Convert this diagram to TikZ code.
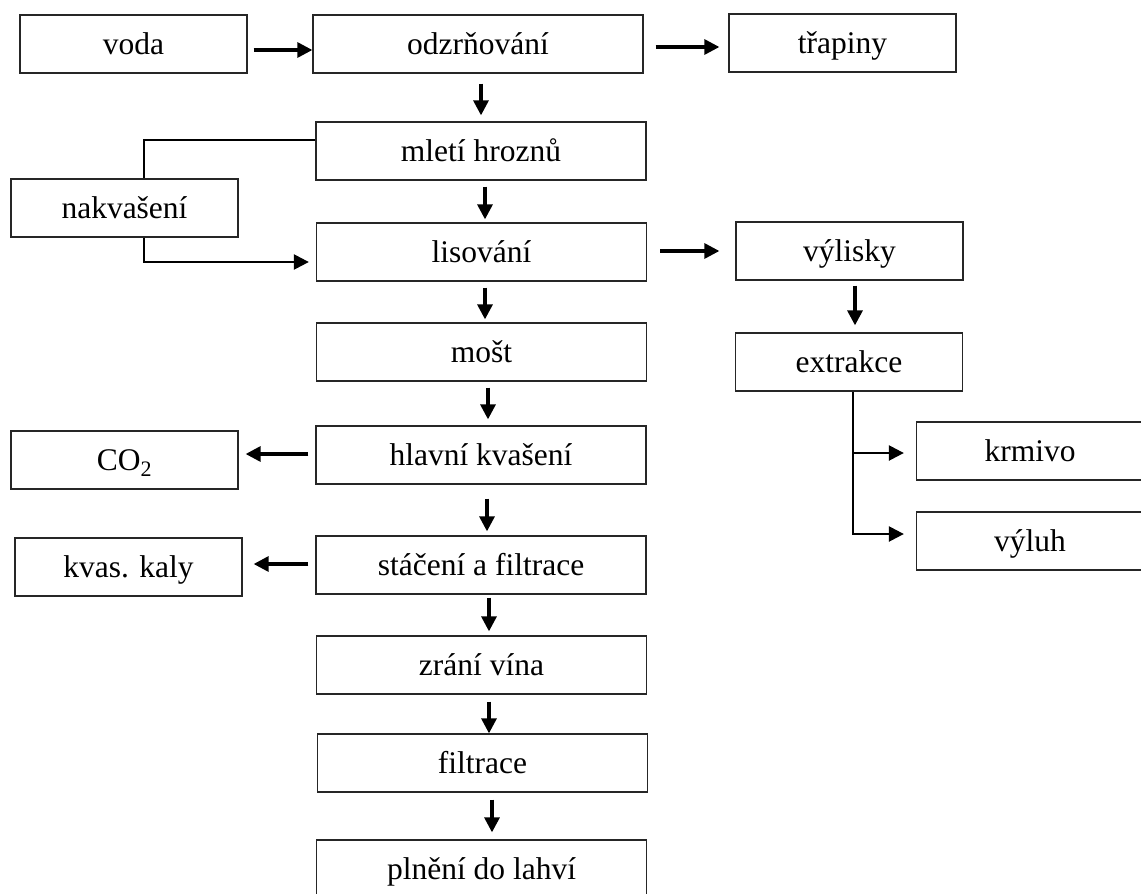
\documentclass[tikz,border=0pt]{standalone}
\usepackage{fontspec}
\setmainfont{Liberation Serif}
\usetikzlibrary{arrows.meta}

\begin{document}
\begin{tikzpicture}[x=1pt,y=-1pt,
  procbox/.style={draw=black!85, line width=1.3pt, rectangle, inner sep=0pt,
    minimum height=58pt, text height=21pt, text depth=0pt,
    font=\fontsize{31.5}{36}\selectfont},
  wide/.style={procbox, minimum width=330pt},
  narrow/.style={procbox, minimum width=227pt},
  flowarr/.style={line width=3.2pt, -{Triangle[length=15pt,width=15pt]}},
  flowline/.style={line width=2.4pt},
  flowlinearr/.style={line width=2.4pt, -{Triangle[length=15pt,width=15pt]}}]

\useasboundingbox (0,0) rectangle (1141,894);
\clip (0,0) rectangle (1141,894);

% main column
\node[wide] (odz)    at (478,44)    {odzrňování};
\node[wide] (mleti)  at (481,151)   {mletí hroznů};
\node[wide] (lis)    at (481.5,252) {lisování};
\node[wide] (most)   at (481.5,352) {mošt};
\node[wide] (hlav)   at (481,455)   {hlavní kvašení};
\node[wide] (stac)   at (481,565)   {stáčení a filtrace};
\node[wide] (zrani)  at (481.5,665) {zrání vína};
\node[wide] (filt)   at (482.5,763) {filtrace};
\node[wide] (plneni) at (481.5,869) {plnění do lahví};

% side boxes, left
\node[narrow] (voda) at (133.5,44)  {voda};
\node[narrow] (nakv) at (124.5,208) {nakvašení};
\node[narrow] (co2)  at (124.5,460) {CO\textsubscript{2}};
\node[narrow] (kaly) at (128.5,567) {kvas. kaly};

% side boxes, right
\node[narrow] (trap)  at (842.5,43) {třapiny};
\node[narrow] (vyl)   at (849.5,251) {výlisky};
\node[narrow] (extr)  at (849,362)  {extrakce};
\node[narrow] (krm)   at (1030,451) {krmivo};
\node[narrow] (vyluh) at (1030,541) {výluh};

% horizontal arrows
\draw[flowarr] ([xshift=6pt,yshift=-6pt]voda.east) -- ([yshift=-6pt]odz.west);
\draw[flowarr] ([xshift=12pt,yshift=-3pt]odz.east) -- ([xshift=-9pt,yshift=-4pt]trap.west);
\draw[flowarr] ([xshift=13pt,yshift=1pt]lis.east) -- ([xshift=-16pt]vyl.west);
\draw[flowarr] ([xshift=-7pt,yshift=1pt]hlav.west) -- ([xshift=7pt,yshift=6pt]co2.east);
\draw[flowarr] ([xshift=-7pt,yshift=1pt]stac.west) -- ([xshift=11pt,yshift=3pt]kaly.east);

% vertical arrows
\draw[flowarr] ([xshift=3pt,yshift=-10pt]odz.south) -- ([yshift=6pt]mleti.north);
\draw[flowarr] ([xshift=4pt,yshift=-6pt]mleti.south) -- ([xshift=3.5pt,yshift=3pt]lis.north);
\draw[flowarr] ([xshift=3.5pt,yshift=-6pt]lis.south) -- ([xshift=3.5pt,yshift=3pt]most.north);
\draw[flowarr] ([xshift=6.5pt,yshift=-6pt]most.south) -- ([xshift=7pt,yshift=6pt]hlav.north);
\draw[flowarr] ([xshift=6pt,yshift=-14pt]hlav.south) -- ([xshift=6pt,yshift=4pt]stac.north);
\draw[flowarr] ([xshift=8pt,yshift=-3pt]stac.south) -- ([xshift=7.5pt,yshift=4pt]zrani.north);
\draw[flowarr] ([xshift=7.5pt,yshift=-7pt]zrani.south) -- ([xshift=6.5pt]filt.north);
\draw[flowarr] ([xshift=9.5pt,yshift=-7pt]filt.south) -- ([xshift=10.5pt,yshift=7pt]plneni.north);
\draw[flowarr] ([xshift=5.5pt,yshift=-5pt]vyl.south) -- ([xshift=6pt,yshift=7pt]extr.north);

% bypass through maceration
\draw[flowline] ([yshift=11pt]mleti.west) -| ([xshift=19.5pt]nakv.north);
\draw[flowlinearr] ([xshift=19.5pt]nakv.south) |- ([xshift=-7pt,yshift=-10pt]lis.west);

% extraction branches
\coordinate (br) at ([xshift=4pt]extr.south);
\coordinate (kk) at ([yshift=-2pt]krm.west);
\draw[flowlinearr] (br) |- ([xshift=-12pt,yshift=7pt]vyluh.west);
\draw[flowlinearr] (kk -| br) -- ([xshift=-12pt]kk);

\end{tikzpicture}
\end{document}
